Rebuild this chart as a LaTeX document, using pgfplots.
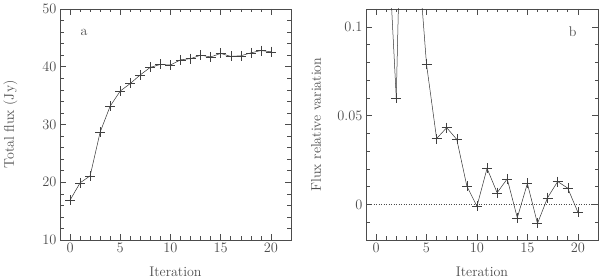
\documentclass[border=0pt]{standalone}
\usepackage{pgfplots}
\pgfplotsset{compat=1.18}
\definecolor{ink}{gray}{0.3}
\pgfplotsset{
  myaxis/.style={
    scale only axis, width=231pt, height=231pt,
    anchor=south west,
    font=\fontsize{14}{16}\selectfont,
    color=ink,
    axis line style={ink, line width=0.5pt},
    tick style={ink, line width=0.5pt},
    major tick length=6pt, minor tick length=3.5pt,
    tick align=inside,
    xtick pos=both, ytick pos=both,
    xmin=-1, xmax=22,
    xtick={0,5,10,15,20}, minor x tick num=4,
    xlabel={Iteration},
    every axis x label/.style={at={(axis description cs:0.5,-0.138)}, anchor=center},
    every axis y label/.style={at={(axis description cs:-0.215,0.5)}, rotate=90, anchor=center},
    clip marker paths=true,
  },
  myline/.style={black!80, line width=0.5pt, mark=+, mark size=5pt, mark options={black!75, line width=0.4pt}},
}
\begin{document}
\begin{tikzpicture}
\useasboundingbox (0,0) rectangle (600pt,280pt);
\begin{axis}[myaxis, at={(60pt,40pt)},
  ymin=10, ymax=50, ytick={10,20,30,40,50}, minor y tick num=4,
  ylabel={Total flux (Jy)}]
\addplot[myline] coordinates {
(0,16.9)(1,19.9)(2,21.1)(3,28.7)(4,33.2)(5,35.8)(6,37.1)(7,38.6)(8,39.9)(9,40.4)
(10,40.3)(11,41.2)(12,41.4)(13,42.0)(14,41.7)(15,42.3)(16,41.8)(17,41.9)(18,42.4)(19,42.8)(20,42.6)};
\node[anchor=center, ink] at (axis cs:1.4,45.9) {a};
\end{axis}
\begin{axis}[myaxis, at={(366pt,40pt)}, width=232pt,
  ymin=-0.02, ymax=0.11, ytick={0,0.05,0.1}, minor ytick={-0.01,0.01,0.02,0.03,0.04,0.06,0.07,0.08,0.09},
  yticklabel style={/pgf/number format/fixed},
  scaled y ticks=false,
  ylabel={Flux relative variation}]
\addplot[ink, dotted, line width=0.5pt] coordinates {(-1,0)(22,0)};
\addplot[myline] coordinates {
(1,0.17)(2,0.060)(3,0.30)(4,0.153)(5,0.0788)(6,0.0371)(7,0.0432)(8,0.0366)(9,0.0103)
(10,-0.001)(11,0.0203)(12,0.0066)(13,0.0144)(14,-0.0075)(15,0.0118)(16,-0.0107)(17,0.0038)(18,0.0129)(19,0.0092)(20,-0.0043)};
\node[anchor=center, ink] at (axis cs:19.5,0.097) {b};
\end{axis}
\end{tikzpicture}
\end{document}
